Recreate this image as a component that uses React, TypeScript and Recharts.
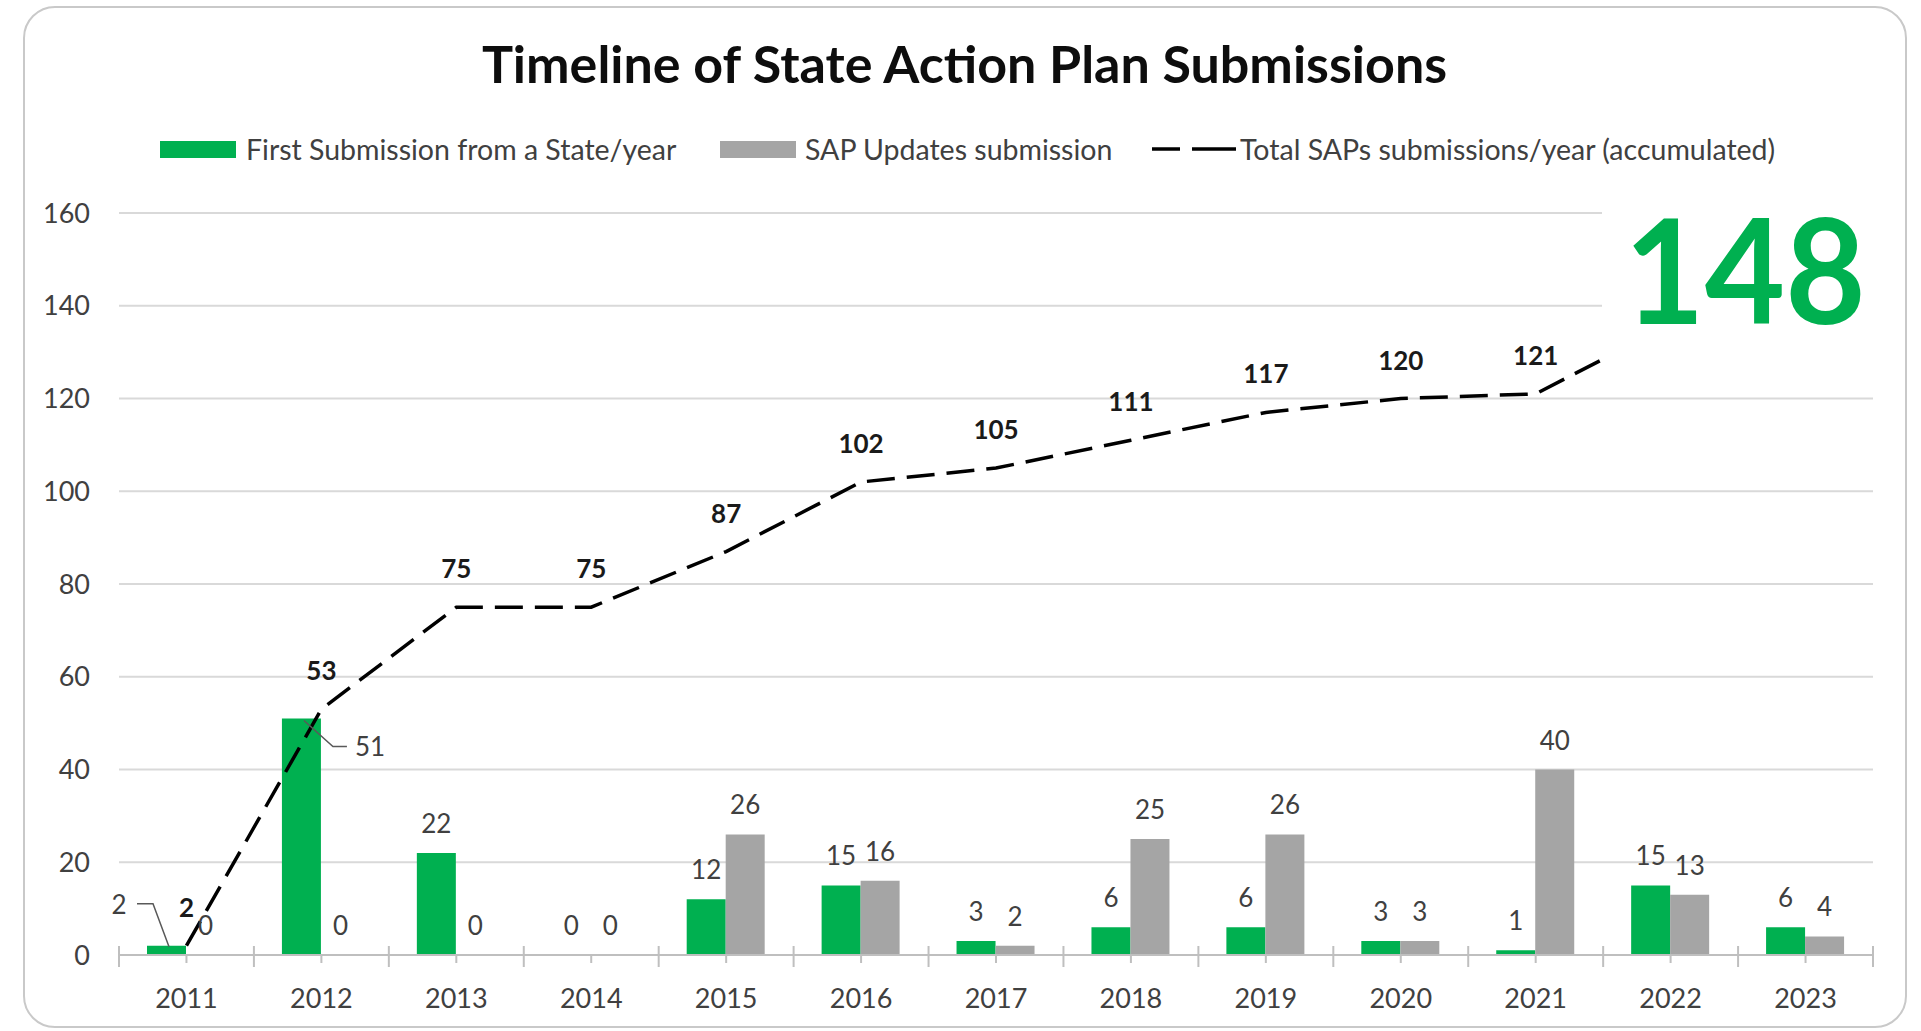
import React from "react"
import {
  ComposedChart,
  Bar,
  Line,
  XAxis,
  YAxis,
  CartesianGrid,
  LabelList
} from "recharts"

const years = ["2011", "2012", "2013", "2014", "2015", "2016", "2017", "2018", "2019", "2020", "2021", "2022", "2023"]
const firstSubmissions = [2, 51, 22, 0, 12, 15, 3, 6, 6, 3, 1, 15, 6]
const sapUpdates = [0, 0, 0, 0, 26, 16, 2, 25, 26, 3, 40, 13, 4]
const accumulatedTotal = [2, 53, 75, 75, 87, 102, 105, 111, 117, 120, 121, 136, 142]
const yTicks = [0, 20, 40, 60, 80, 100, 120, 140, 160]
const headlineTotal = 148
// the 148 badge hides the line after 2021 in the original
const lastVisibleTotal = 10

const GREEN = "#00B050"
const GRAY = "#A5A5A5"
const TEXT = "#404040"
const FONT = "Lato, 'Open Sans', sans-serif"

const data = years.map((year, i) => ({
  year,
  first: firstSubmissions[i],
  updates: sapUpdates[i],
  total: accumulatedTotal[i]
}))

function XTick(props: any) {
  const { x, y, payload, index, visibleTicksCount } = props
  const half = payload?.offset || 67.5
  const isLast = index === visibleTicksCount - 1
  return (
    <g>
      <line x1={x - half} x2={x - half} y1={y - 9} y2={y + 12} stroke="#bfbfbf" strokeWidth={2} />
      {isLast && <line x1={x + half} x2={x + half} y1={y - 9} y2={y + 12} stroke="#bfbfbf" strokeWidth={2} />}
      <line x1={x} x2={x} y1={y} y2={y + 8} stroke="#bfbfbf" strokeWidth={2} />
      <text x={x} y={y + 42} textAnchor="middle" dominantBaseline="central" fill={TEXT} fontSize={27} fontFamily={FONT}>
        {payload.value}
      </text>
    </g>
  )
}

function FirstLabel(props: any) {
  const { x, y, width, value, index } = props
  if (index === 0) {
    return (
      <g>
        <polyline points={`${x - 10},${y - 42} ${x + 6},${y - 42} ${x + 22},${y + 1}`} fill="none" stroke="#595959" strokeWidth={1.5} />
        <text x={x - 28} y={y - 42} textAnchor="middle" dominantBaseline="central" fill={TEXT} fontSize={26} fontFamily={FONT}>
          {value}
        </text>
      </g>
    )
  }
  if (index === 1) {
    return (
      <g>
        <polyline points={`${x + 22},${y + 2} ${x + 51},${y + 28} ${x + 65},${y + 28}`} fill="none" stroke="#595959" strokeWidth={1.5} />
        <text x={x + 73} y={y + 28} textAnchor="start" dominantBaseline="central" fill={TEXT} fontSize={26} fontFamily={FONT}>
          {value}
        </text>
      </g>
    )
  }
  return (
    <text x={x + width / 2} y={y - 30} textAnchor="middle" dominantBaseline="central" fill={TEXT} fontSize={26} fontFamily={FONT}>
      {value}
    </text>
  )
}

function UpdatesLabel(props: any) {
  const { x, y, width, value } = props
  return (
    <text x={x + width / 2} y={y - 30} textAnchor="middle" dominantBaseline="central" fill={TEXT} fontSize={26} fontFamily={FONT}>
      {value}
    </text>
  )
}

function TotalLabel(props: any) {
  const { x, y, value, index } = props
  if (index > lastVisibleTotal) return null
  return (
    <text x={x} y={y - 39} textAnchor="middle" dominantBaseline="central" fill="#1a1a1a" fontSize={26} fontWeight={700} fontFamily={FONT}>
      {value}
    </text>
  )
}

function LegendItems() {
  const textStyle: React.CSSProperties = { position: "absolute", top: 149, transform: "translateY(-50%)", fontSize: 28.5, color: TEXT, fontFamily: FONT, whiteSpace: "nowrap" }
  return (
    <>
      <div style={{ position: "absolute", left: 160, top: 141, width: 76, height: 17, background: GREEN }} />
      <div style={{ ...textStyle, left: 246 }}>First Submission from a State/year</div>
      <div style={{ position: "absolute", left: 720, top: 141, width: 76, height: 17, background: GRAY }} />
      <div style={{ ...textStyle, left: 805 }}>SAP Updates submission</div>
      <svg style={{ position: "absolute", left: 1150, top: 140 }} width={90} height={18}>
        <line x1={2} x2={30} y1={9} y2={9} stroke="#000" strokeWidth={3.5} />
        <line x1={42} x2={86} y1={9} y2={9} stroke="#000" strokeWidth={3.5} />
      </svg>
      <div style={{ ...textStyle, left: 1240 }}>Total SAPs submissions/year (accumulated)</div>
    </>
  )
}

export default function App() {
  return (
    <div style={{ position: "absolute", left: 0, top: 0, width: 1921, height: 1031, background: "#fff", overflow: "hidden" }}>
      <div style={{ position: "absolute", left: 23, top: 6, width: 1884, height: 1022, border: "2px solid #c9c9c9", borderRadius: 32, boxSizing: "border-box" }} />
      <div style={{ position: "absolute", left: 4, top: 37, width: 1921, textAlign: "center", fontFamily: FONT, fontWeight: 700, fontSize: 52, lineHeight: 1, color: "#0d0d0d" }}>
        Timeline of State Action Plan Submissions
      </div>
      <LegendItems />
      <div style={{ position: "absolute", left: 0, top: 0 }}>
        <ComposedChart width={1921} height={1031} data={data} margin={{ top: 213, right: 48, bottom: 0, left: 0 }} barGap={0}>
          <CartesianGrid vertical={false} stroke="#d9d9d9" strokeWidth={2} />
          <XAxis dataKey="year" height={76} interval={0} tickSize={0} tickMargin={0} tickLine={false} axisLine={{ stroke: "#bfbfbf", strokeWidth: 2 }} tick={<XTick />} />
          <YAxis width={119} domain={[0, 160]} ticks={yTicks} axisLine={false} tickLine={false} tickSize={6} tickMargin={23} tick={{ fill: TEXT, fontSize: 27, fontFamily: FONT }} />
          <Bar dataKey="first" fill={GREEN} barSize={39} minPointSize={0.01} isAnimationActive={false}>
            <LabelList dataKey="first" content={<FirstLabel />} />
          </Bar>
          <Bar dataKey="updates" fill={GRAY} barSize={39} minPointSize={0.01} isAnimationActive={false}>
            <LabelList dataKey="updates" content={<UpdatesLabel />} />
          </Bar>
          <Line dataKey="total" type="linear" stroke="#000" strokeWidth={3.5} strokeDasharray="28 12" dot={false} activeDot={false} isAnimationActive={false}>
            <LabelList dataKey="total" content={<TotalLabel />} />
          </Line>
        </ComposedChart>
      </div>
      <div style={{ position: "absolute", left: 1602, top: 195, width: 292, height: 190, background: "#fff" }} />
      <div style={{ position: "absolute", left: 1599, top: 195, width: 292, textAlign: "center", fontFamily: FONT, fontWeight: 700, fontSize: 146, lineHeight: 1, color: GREEN, transform: "scaleX(0.95)" }}>
        {headlineTotal}
      </div>
    </div>
  )
}
